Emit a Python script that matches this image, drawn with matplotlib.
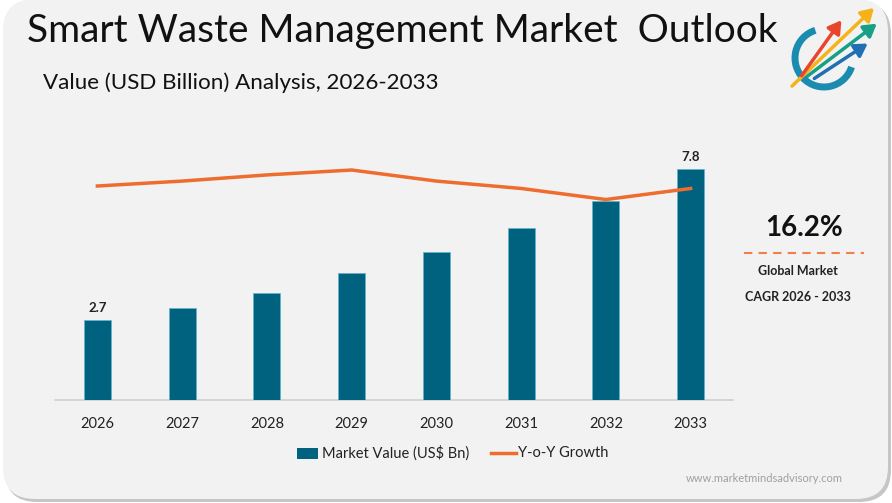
import numpy as np
import matplotlib
matplotlib.use("Agg")
from matplotlib import pyplot as plt
from matplotlib.patches import FancyBboxPatch, Rectangle, Arc, FancyArrowPatch
from matplotlib.lines import Line2D

plt.rcParams['font.family'] = ['Lato', 'DejaVu Sans']

years = ['2026', '2027', '2028', '2029', '2030', '2031', '2032', '2033']
market_value = [2.7, 3.1, 3.6, 4.3, 5.0, 5.8, 6.7, 7.8]
yoy_growth = [15.9, 16.3, 16.8, 17.2, 16.3, 15.7, 14.8, 15.7]
labelled = {0: '2.7', 7: '7.8'}
cagr = '16.2%'

bar_col = '#00627f'
line_col = '#ef6c2f'

W, H = 892, 503
fig = plt.figure(figsize=(W / 100, H / 100), dpi=100)
fig.patch.set_facecolor('white')

# card background with a thin shadow at the bottom right
shadow = FancyBboxPatch((5, 1), 886, H - 3, boxstyle="round,pad=0,rounding_size=32",
                        transform=None, facecolor='#a0a0a0', edgecolor='none', zorder=-3, alpha=0.6)
card = FancyBboxPatch((3, 4), 885, H - 3, boxstyle="round,pad=0,rounding_size=32",
                      transform=None, facecolor='#f2f2f2', edgecolor='none', zorder=-2)
fig.patches.extend([shadow, card])

ax = fig.add_axes([55 / W, 1 - 400 / H, 678 / W, 255 / H])
ax.set_facecolor('none')
x = np.arange(len(years))
ax.bar(x, market_value, width=0.32, color=bar_col, edgecolor='#5fb5cf', linewidth=0.5, zorder=3)
ax.set_xlim(-0.5, 7.5)
ax.set_ylim(0, 8.6)
for i, s in labelled.items():
    ax.text(x[i], market_value[i] + 0.2, s, ha='center', va='bottom',
            fontsize=9.5, fontweight='bold', color='#222222')
ax.set_xticks(x)
ax.set_xticklabels(years, fontsize=10.5, color='#222222')
ax.tick_params(axis='x', length=0, pad=12)
ax.set_yticks([])
for s in ['top', 'right', 'left']:
    ax.spines[s].set_visible(False)
ax.spines['bottom'].set_color('#d0d0d0')
ax.spines['bottom'].set_linewidth(1.2)

ax2 = ax.twinx()
ax2.plot(x, yoy_growth, color=line_col, linewidth=2.5, zorder=4)
ax2.set_ylim(15.9 - 214 / 12.3, 15.9 + 41 / 12.3)
ax2.set_yticks([])
for s in ax2.spines.values():
    s.set_visible(False)

# titles
t = fig.text(27 / W, 1 - 31 / H, 'Smart Waste Management Market  Outlook',
             fontsize=30, va='center', ha='left', color='#111111')
st = fig.text(43 / W, 1 - 83 / H, 'Value (USD Billion) Analysis, 2026-2033',
              fontsize=16, va='center', ha='left', color='#111111')
r = fig.canvas.get_renderer()
t.set_fontsize(30 * 748 / t.get_window_extent(r).width)
st.set_fontsize(16 * 397 / st.get_window_extent(r).width)

# CAGR panel
fig.text(804 / W, 1 - 228 / H, cagr, fontsize=20, fontweight='bold', ha='center', va='center', color='#111111')
fig.add_artist(Line2D([744 / W, 864 / W], [1 - 253 / H] * 2, color=line_col, linewidth=1.5,
                      linestyle=(0, (4, 3)), alpha=0.85))
fig.text(798 / W, 1 - 271 / H, 'Global Market', fontsize=9, fontweight='bold', ha='center', va='center', color='#222222')
fig.text(798 / W, 1 - 297 / H, 'CAGR 2026 - 2033', fontsize=9, fontweight='bold', ha='center', va='center', color='#222222')

# legend
fig.add_artist(Rectangle((297 / W, 1 - 459 / H), 21 / W, 11 / H, facecolor=bar_col, edgecolor='none'))
fig.text(322 / W, 1 - 453 / H, 'Market Value (US$ Bn)', fontsize=10.5, va='center', ha='left', color='#222222')
fig.add_artist(Line2D([491 / W, 516 / W], [1 - 453 / H] * 2, color=line_col, linewidth=2.5))
fig.text(518 / W, 1 - 453 / H, 'Y-o-Y Growth', fontsize=10.5, va='center', ha='left', color='#222222')

fig.text(843 / W, 1 - 479 / H, 'www.marketmindsadvisory.com', fontsize=8, ha='right', va='center', color='#a0a0a0')

# logo
fig.add_artist(Arc((824 / W, 1 - 58 / H), 58 / W, 58 / H, theta1=100, theta2=330,
                   color='#1a8caf', linewidth=5))
for (x0, y0, x1, y1, c) in [(790, 88, 876, 6, '#f5b21a'), (800, 78, 843, 18, '#e8452c'),
                            (805, 78, 879, 22, '#16a085'), (812, 80, 870, 42, '#1f6fb2')]:
    fig.add_artist(FancyArrowPatch((x0 / W, 1 - y0 / H), (x1 / W, 1 - y1 / H),
                                   transform=fig.transFigure, arrowstyle='-|>,head_width=3,head_length=5',
                                   color=c, linewidth=2.5, mutation_scale=1.5))

fig.savefig('out.png', dpi=100, facecolor=fig.get_facecolor())
